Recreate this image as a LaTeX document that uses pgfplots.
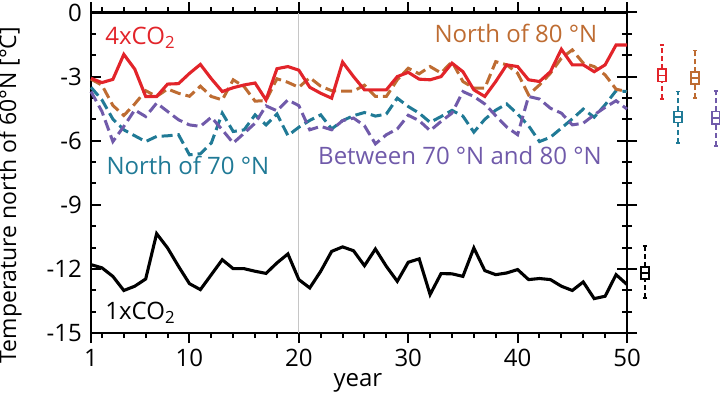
\documentclass[border=0pt]{standalone}
\usepackage{fontspec}
\setmainfont{Open Sans}
\usepackage{pgfplots}
\pgfplotsset{compat=1.18}
\definecolor{cred}{RGB}{226,36,42}
\definecolor{cbrown}{RGB}{190,108,50}
\definecolor{cteal}{RGB}{32,122,150}
\definecolor{cpurple}{RGB}{112,90,170}

\pgfplotstableread{
year red brown teal purple black
1 -3.08 -3.12 -3.50 -3.70 -11.80
2 -3.28 -3.40 -4.09 -4.63 -11.95
3 -3.13 -4.35 -4.99 -6.04 -12.35
4 -1.96 -4.82 -5.49 -5.33 -13.01
5 -2.65 -4.28 -5.77 -4.56 -12.81
6 -3.93 -3.66 -6.04 -4.87 -12.47
7 -3.93 -3.93 -5.80 -4.24 -10.35
8 -3.35 -3.58 -5.77 -4.63 -11.02
9 -3.33 -3.78 -5.72 -5.02 -11.88
10 -2.85 -3.92 -6.66 -5.26 -12.69
11 -2.43 -3.45 -6.61 -5.33 -12.97
12 -3.10 -3.93 -6.11 -4.90 -12.27
13 -3.70 -4.09 -4.71 -5.49 -11.57
14 -3.52 -3.15 -5.57 -6.11 -11.99
15 -3.39 -3.47 -5.49 -5.65 -11.99
16 -3.30 -4.15 -4.79 -5.18 -12.11
17 -4.09 -4.12 -5.26 -4.37 -12.21
18 -2.63 -3.10 -4.75 -4.60 -11.72
19 -2.53 -3.27 -5.76 -4.09 -11.30
20 -2.70 -3.50 -5.37 -4.36 -12.50
21 -3.50 -3.05 -5.05 -5.49 -12.89
22 -3.78 -3.45 -4.79 -5.33 -12.11
23 -4.01 -3.66 -5.45 -5.49 -11.18
24 -2.32 -3.68 -5.06 -5.06 -10.97
25 -3.00 -3.68 -4.83 -4.94 -11.15
26 -3.62 -3.40 -4.68 -5.30 -11.85
27 -3.62 -3.93 -4.85 -6.15 -11.07
28 -3.62 -3.93 -4.75 -5.72 -11.88
29 -3.00 -3.15 -4.01 -5.45 -12.58
30 -2.80 -2.61 -4.40 -4.81 -11.69
31 -3.12 -2.87 -4.71 -5.06 -11.53
32 -3.15 -2.53 -5.14 -5.53 -13.20
33 -3.00 -2.83 -4.87 -5.10 -12.22
34 -2.37 -2.30 -4.58 -4.71 -12.23
35 -2.77 -3.23 -4.85 -3.70 -12.35
36 -3.62 -3.54 -5.60 -3.93 -11.02
37 -3.93 -3.54 -5.00 -4.28 -12.08
38 -3.23 -2.30 -4.57 -4.83 -12.27
39 -2.45 -2.45 -4.28 -5.36 -12.19
40 -2.53 -2.84 -4.75 -5.72 -12.03
41 -3.15 -3.85 -5.30 -3.93 -12.50
42 -3.23 -3.39 -6.04 -4.05 -12.45
43 -2.77 -2.84 -5.84 -4.48 -12.50
44 -1.72 -2.14 -5.41 -4.71 -12.81
45 -2.45 -1.75 -4.98 -5.26 -13.01
46 -2.45 -2.37 -4.52 -5.18 -12.61
47 -2.77 -2.53 -4.90 -4.79 -13.39
48 -2.45 -2.92 -4.32 -4.44 -13.28
49 -1.52 -3.59 -3.66 -4.13 -12.27
50 -1.52 -3.70 -3.70 -4.52 -12.73
}\datatable

% box: color, x, lower whisker, lower quartile, median, upper quartile, upper whisker
\newcommand{\bx}[7]{%
  \addplot[#1, line width=1.8pt, dash pattern=on 5pt off 3pt] coordinates {(#2,#3) (#2,#4)};
  \addplot[#1, line width=1.8pt, dash pattern=on 5pt off 3pt] coordinates {(#2,#6) (#2,#7)};
  \addplot[#1, line width=1.6pt] coordinates {(#2-2.2,#3) (#2+2.2,#3)};
  \addplot[#1, line width=1.6pt] coordinates {(#2-2.2,#7) (#2+2.2,#7)};
  \addplot[#1, line width=1.8pt, fill=white] coordinates {(#2-3.8,#4) (#2+3.8,#4) (#2+3.8,#6) (#2-3.8,#6)} -- cycle;
  \addplot[#1, line width=1.8pt] coordinates {(#2-3.8,#5) (#2+3.8,#5)};
}

\pgfplotsset{frame/.style={
  at={(0,0)}, anchor=south west,
  scale only axis, width=536pt, height=320.5pt,
  xmin=1, xmax=50, ymin=-15, ymax=0,
  tick style={black, line width=2pt},
  major tick length=10pt, minor tick length=5pt,
  ytick={-15,-12,-9,-6,-3,0},
  minor ytick={-14,-13,-11,-10,-8,-7,-5,-4,-2,-1},
}}

\begin{document}
\fontsize{24}{28}\selectfont
\begin{tikzpicture}
\useasboundingbox (-91pt,-61pt) rectangle (629pt,333pt);
\begin{axis}[
  frame,
  clip=false,
  axis line style={line width=2.2pt},
  xtick align=outside, ytick align=inside,
  xtick={1,10,20,30,40,50},
  xticklabels={1,10,20,30,40,50},
  minor xtick={2,4,6,8,12,14,16,18,22,24,26,28,32,34,36,38,42,44,46,48},
  yticklabels={-15,-12,-9,-6,-3,0},
  xtick pos=both, ytick pos=both,
  xlabel={year},
  ylabel={Temperature north of 60°N [°C]},
  every axis x label/.style={at={(axis description cs:0.498,-0.155)}, anchor=center},
  every axis y label/.style={at={(axis description cs:-0.151,0.43)}, anchor=center, rotate=90, font=\fontsize{23}{26}\selectfont},
  xticklabel style={yshift=2pt},
  yticklabel style={xshift=-1pt},
]
\addplot[gray!45, line width=1pt] coordinates {(20,-15) (20,0)};
\addplot[cteal, line width=3pt, dash pattern=on 11pt off 5pt] table[x=year, y=teal] {\datatable};
\addplot[cpurple, line width=3pt, dash pattern=on 11pt off 5pt] table[x=year, y=purple] {\datatable};
\addplot[cbrown, line width=3pt, dash pattern=on 11pt off 5pt] table[x=year, y=brown] {\datatable};
\addplot[cred, line width=3.1pt] table[x=year, y=red] {\datatable};
\addplot[black, line width=3.1pt] table[x=year, y=black] {\datatable};

\node[cred, anchor=base west, inner sep=0pt] at (axis cs:2.3,-1.52) {4xCO\textsubscript{2}};
\node[cbrown, anchor=base east, inner sep=0pt] at (axis cs:47.3,-1.41) {North of 80 °N};
\node[cteal, anchor=base west, inner sep=0pt] at (axis cs:2.4,-7.59) {North of 70 °N};
\node[cpurple, anchor=base east, inner sep=0pt] at (axis cs:47.7,-7.13) {Between 70 °N and 80 °N};
\node[black, anchor=base west, inner sep=0pt] at (axis cs:2.3,-14.37) {1xCO\textsubscript{2}};
\end{axis}
\begin{axis}[
  frame,
  axis line style={draw=none},
  xtick=\empty, minor xtick={},
  ytick pos=right, ytick align=outside,
  yticklabels={},
]
\end{axis}
\begin{axis}[
  at={(536pt,0)}, anchor=south west,
  scale only axis, width=93pt, height=320.5pt,
  xmin=0, xmax=93, ymin=-15, ymax=0,
  hide axis, clip=false,
]
\bx{black}{18}{-13.36}{-12.47}{-12.19}{-11.9}{-10.94}
\bx{cred}{35}{-4.06}{-3.23}{-2.95}{-2.65}{-1.52}
\bx{cteal}{51}{-6.11}{-5.15}{-4.9}{-4.63}{-3.70}
\bx{cbrown}{68}{-4.01}{-3.34}{-3.08}{-2.8}{-1.78}
\bx{cpurple}{89}{-6.24}{-5.21}{-4.93}{-4.63}{-3.67}
\end{axis}
\end{tikzpicture}
\end{document}
